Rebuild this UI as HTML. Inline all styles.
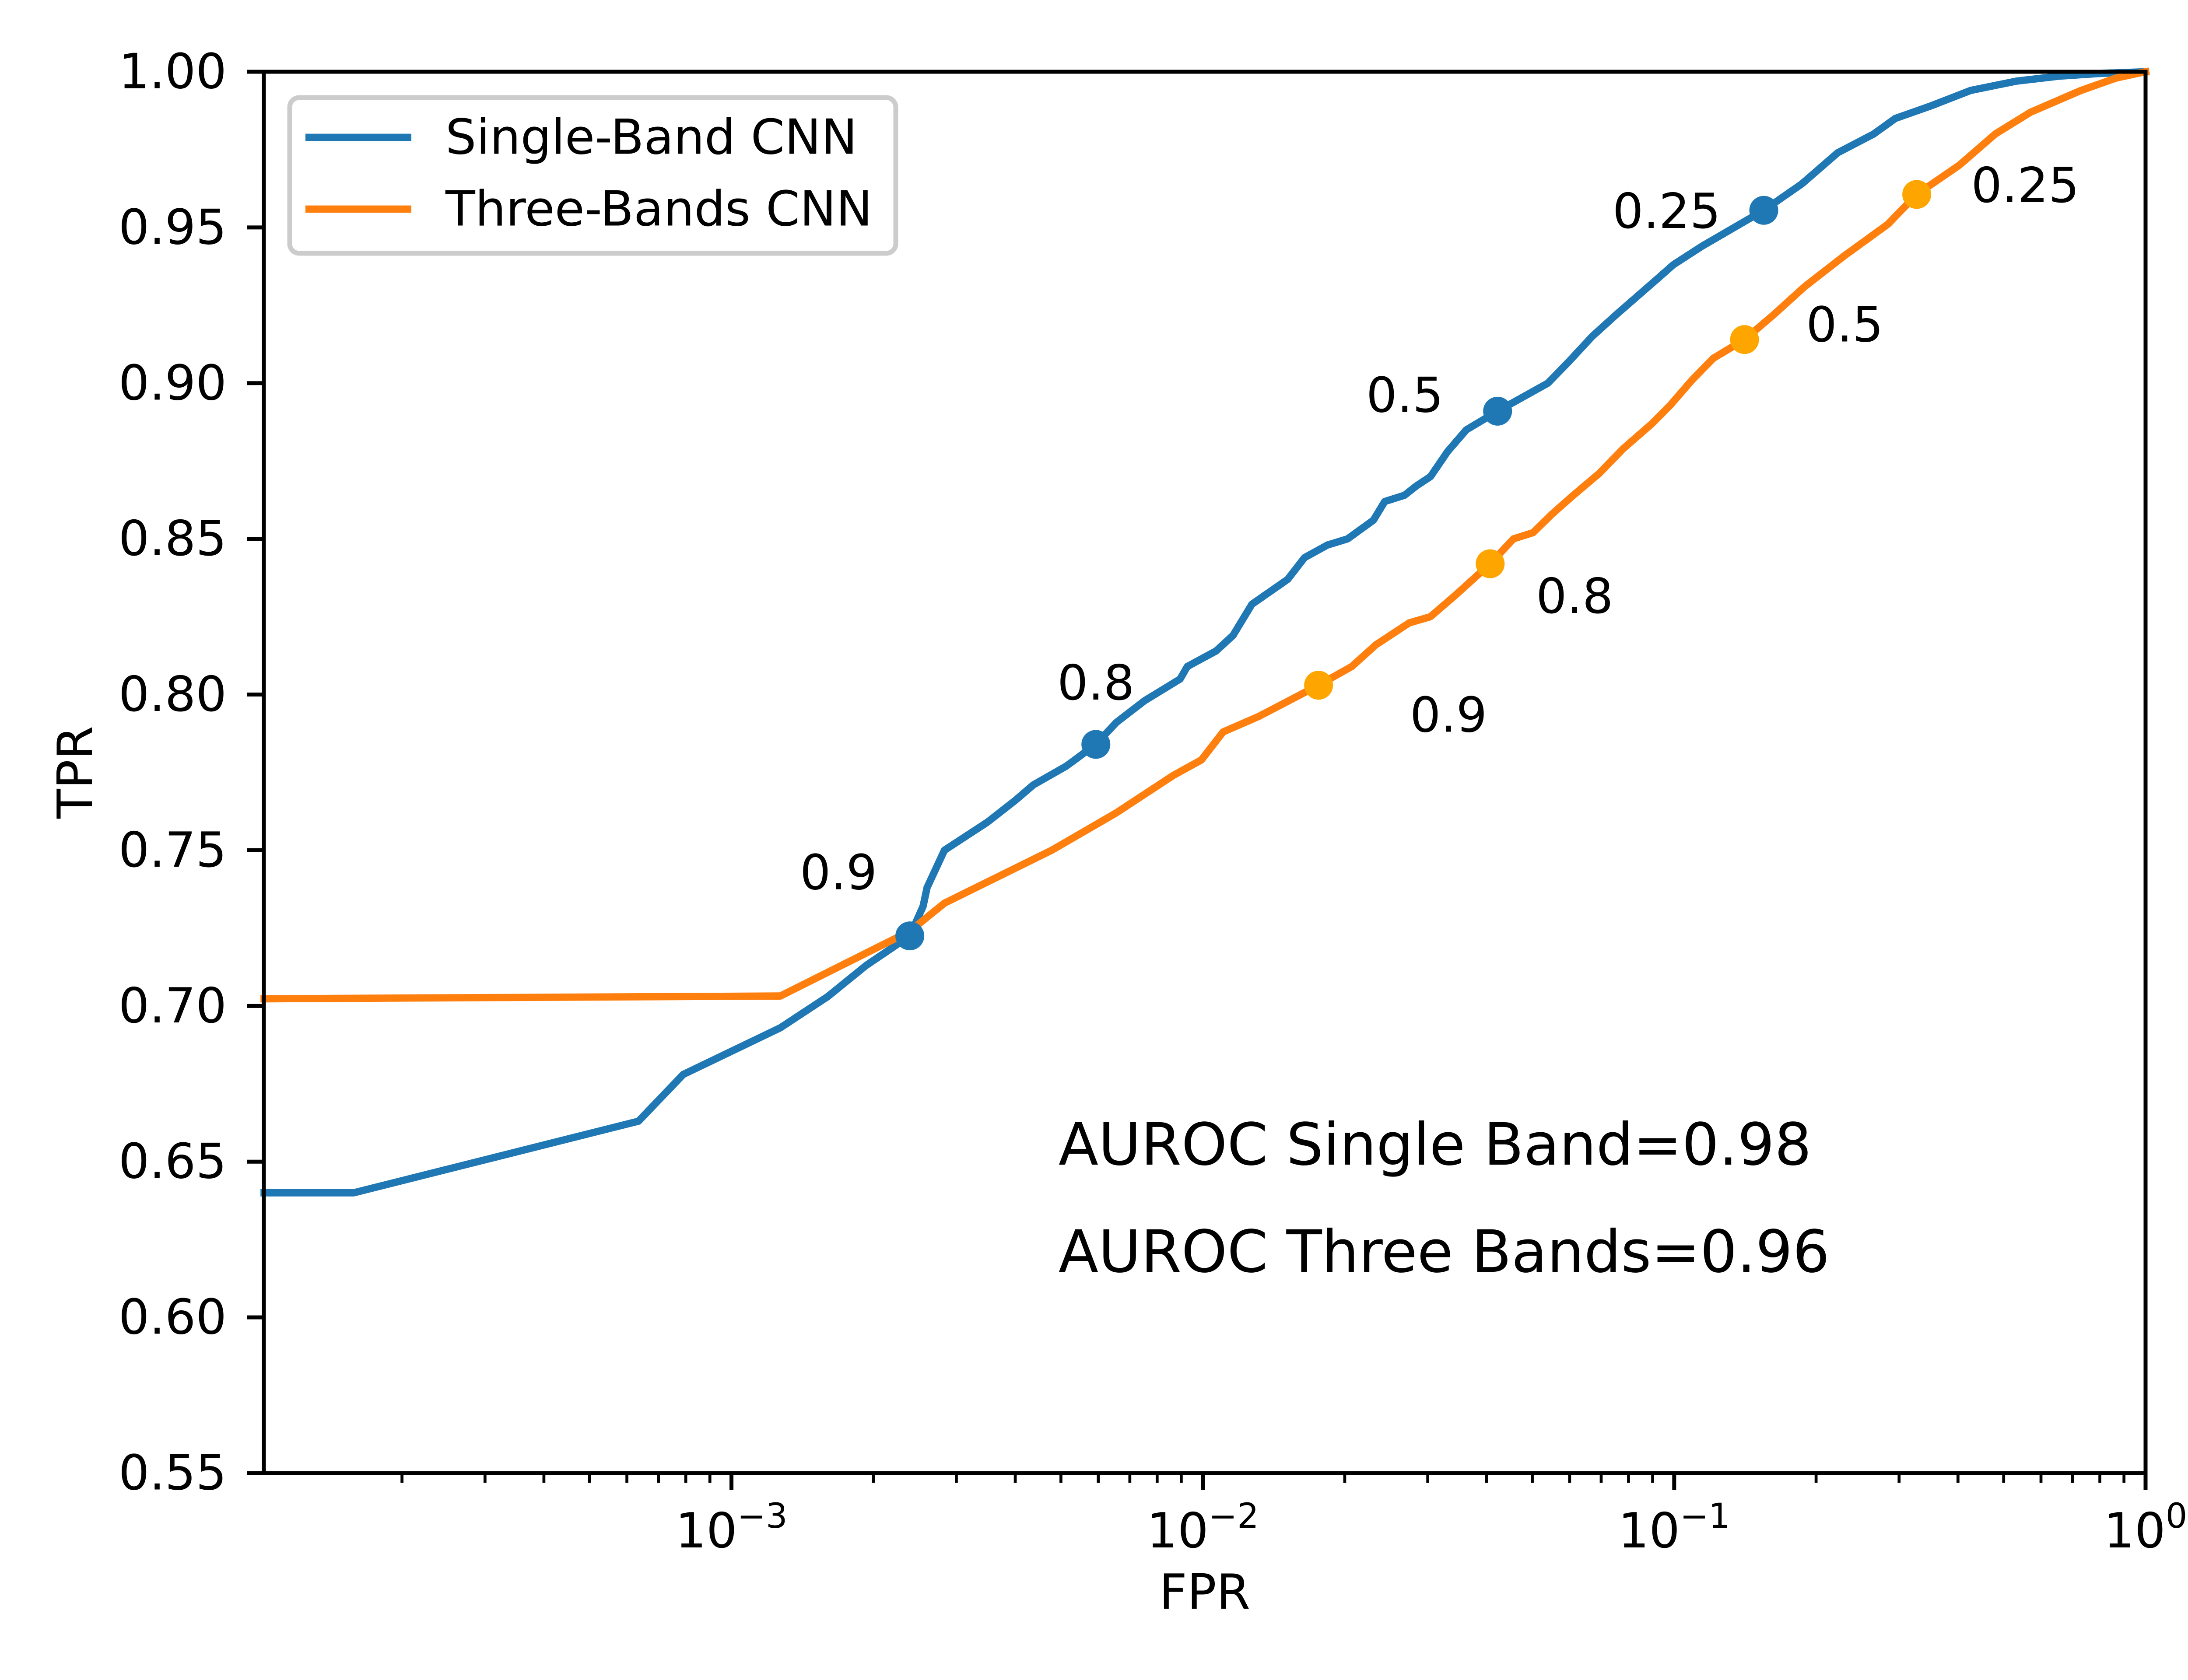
<!DOCTYPE html>
<html><head><meta charset="utf-8"><style>
html,body{margin:0;padding:0;background:#fff;}
svg{display:block;font-family:"DejaVu Sans","Liberation Sans",sans-serif;}
</style></head><body>
<svg id="chart" width="5120" height="3840" viewBox="0 0 5120 3840">
<rect x="0" y="0" width="5120" height="3840" fill="#fff"/>
<g id="grid"></g>
<g id="series"></g>
<g id="axes"></g>
<g id="legend"></g>
<text x="2419" y="2662" font-size="133" fill="#000">AUROC Single Band=0.98</text>
<text x="2419" y="2907" font-size="133" fill="#000">AUROC Three Bands=0.96</text>
<text x="2753" y="3677" font-size="111" text-anchor="middle">FPR</text>
<text x="0" y="0" font-size="111" text-anchor="middle" transform="translate(210,1765) rotate(-90)">TPR</text>
</svg>
<script>
// ---- data ----
const singleFpr = [1.02e-4,1.58e-4,6.35e-4,7.9e-4,1.27e-3,1.6e-3,1.93e-3,2.39e-3,2.55e-3,2.6e-3,2.83e-3,3.49e-3,4.0e-3,4.37e-3,5.13e-3,5.93e-3,6.55e-3,7.52e-3,8.95e-3,9.27e-3,0.01067,0.01159,0.01271,0.01514,0.01644,0.01837,0.02028,0.02301,0.02432,0.02679,0.02838,0.03041,0.03304,0.03622,0.0422,0.05395,0.05984,0.06699,0.07534,0.09290,0.09954,0.1146,0.1549,0.1866,0.2223,0.2649,0.2944,0.3499,0.4256,0.5321,0.6561,0.8091,1.0];
const singleTpr = [0.640,0.640,0.663,0.678,0.693,0.703,0.713,0.7225,0.732,0.738,0.750,0.759,0.766,0.771,0.777,0.784,0.791,0.798,0.805,0.809,0.814,0.819,0.829,0.837,0.844,0.848,0.850,0.856,0.862,0.864,0.867,0.870,0.878,0.885,0.891,0.900,0.907,0.915,0.922,0.934,0.938,0.944,0.9555,0.964,0.974,0.980,0.985,0.989,0.994,0.997,0.9986,0.9995,1.0];
const threeFpr = [1.02e-4,1.27e-3,2.39e-3,2.83e-3,4.78e-3,6.55e-3,8.65e-3,9.93e-3,0.01104,0.01315,0.0176,0.0207,0.0233,0.0274,0.0304,0.0344,0.0407,0.0456,0.0502,0.0551,0.0611,0.0693,0.0780,0.0897,0.0982,0.1091,0.1211,0.141,0.1626,0.1892,0.2301,0.2838,0.327,0.4027,0.4797,0.5702,0.7295,0.867,1.0];
const threeTpr = [0.7023,0.7032,0.724,0.733,0.750,0.762,0.774,0.779,0.788,0.793,0.803,0.809,0.816,0.823,0.825,0.832,0.842,0.850,0.852,0.858,0.864,0.871,0.879,0.887,0.893,0.901,0.908,0.914,0.922,0.931,0.941,0.951,0.9606,0.970,0.980,0.987,0.994,0.998,1.0];
const singleMarkFpr = [2.39e-3,5.93e-3,0.0422,0.1549];
const singleMarkTpr = [0.7225,0.784,0.891,0.9555];
const singleMarkLabels = ["0.9","0.8","0.5","0.25"];
const threeMarkFpr = [0.0176,0.0407,0.141,0.327];
const threeMarkTpr = [0.803,0.842,0.914,0.9606];
const threeMarkLabels = ["0.9","0.8","0.5","0.25"];
const yTicks = [0.55,0.60,0.65,0.70,0.75,0.80,0.85,0.90,0.95,1.00];
const yTickLabels = ["0.55","0.60","0.65","0.70","0.75","0.80","0.85","0.90","0.95","1.00"];
const xTickExps = [-3,-2,-1,0];
const xTickLabels = ["\u22123","\u22122","\u22121","0"];
// ---- layout ----
const L=603,R=4903,T=164,B=3367;
const LX0=-3.992, LX1=0, Y0=0.55, Y1=1.0;
const NS="http://www.w3.org/2000/svg";
function sx(v){return L+(Math.log10(v)-LX0)/(LX1-LX0)*(R-L);}
function sy(v){return B-(v-Y0)/(Y1-Y0)*(B-T);}
function mk(tag,attrs,parent){const e=document.createElementNS(NS,tag);for(const k in attrs)e.setAttribute(k,attrs[k]);parent.appendChild(e);return e;}
const series=document.getElementById('series');
const axes=document.getElementById('axes');
function line(xs,ys,color,name){
  const d=xs.map((x,i)=>(i?'L':'M')+sx(x).toFixed(1)+','+sy(ys[i]).toFixed(1)).join(' ');
  const p=mk('path',{d:d,fill:'none',stroke:color,'stroke-width':16.7,'stroke-linejoin':'round','stroke-linecap':'square'},series);
  
  
}
line(singleFpr,singleTpr,'#1f77b4','single-band-line');
line(threeFpr,threeTpr,'#ff7f0e','three-bands-line');
const sOff=[[-163,-144],[0,-140],[-212,-36],[-222,3]];
const tOff=[[297,69],[193,75],[229,-33],[248,-20]];
function marks(xs,ys,labs,color,off,prefix){
  xs.forEach((x,i)=>{
    const cx=sx(x),cy=sy(ys[i]);
    const c=mk('circle',{cx:cx,cy:cy,r:33,fill:color},series);
    
    
    const t=mk('text',{x:cx+off[i][0],y:cy+off[i][1],'font-size':111,'text-anchor':'middle','dominant-baseline':'central'},series);
    t.textContent=labs[i];
    
    
  });
}
marks(singleMarkFpr,singleMarkTpr,singleMarkLabels,'#1f77b4',sOff,'single-band');
marks(threeMarkFpr,threeMarkTpr,threeMarkLabels,'#ffa500',tOff,'three-bands');
// axes frame
const fr=mk('rect',{x:L,y:T,width:R-L,height:B-T,fill:'none',stroke:'#000','stroke-width':9},axes);


// y ticks
yTicks.forEach((v,i)=>{
  const y=sy(v);
  const tk=mk('line',{x1:L-39,x2:L,y1:y,y2:y,stroke:'#000','stroke-width':9},axes);
  
  
  const t=mk('text',{x:518,y:y,'font-size':111,'text-anchor':'end','dominant-baseline':'central'},axes);
  t.textContent=yTickLabels[i];
  
  
});
// x ticks
xTickExps.forEach((e,i)=>{
  const x=sx(Math.pow(10,e));
  const tk=mk('line',{x1:x,x2:x,y1:B,y2:B+39,stroke:'#000','stroke-width':9},axes);
  
  
  const t=mk('text',{x:x,y:3537,'font-size':111,'text-anchor':'middle'},axes);
  
  
  const a=mk('tspan',{},t);a.textContent='10';
  const b=mk('tspan',{'font-size':78,dy:-45},t);b.textContent=xTickLabels[i];
});
for(let e=-4;e<0;e++){for(let m=2;m<=9;m++){
  const v=m*Math.pow(10,e); if(Math.log10(v)<LX0) continue;
  const x=sx(v);
  const tk=mk('line',{x1:x,x2:x,y1:B,y2:B+22,stroke:'#000','stroke-width':6.7},axes);
  
  
}}
// legend
const lg=document.getElementById('legend');
const box=mk('rect',{x:662,y:223,width:1385,height:356,rx:22,fill:'#fff','fill-opacity':0.8,stroke:'#cccccc','stroke-width':11},lg);


[['Single-Band CNN','#1f77b4',314],['Three-Bands CNN','#ff7f0e',478]].forEach(([lab,col,y])=>{
  const l=mk('line',{x1:698,x2:940,y1:y,y2:y,stroke:col,'stroke-width':16.7},lg);
  
  
  const t=mk('text',{x:1018,y:y,'font-size':111,'dominant-baseline':'central'},lg);
  t.textContent=lab;
  
  
});
</script>
</body></html>
